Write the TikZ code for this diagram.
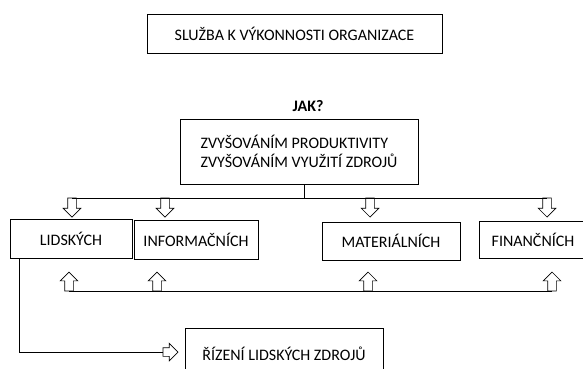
\documentclass[tikz,border=0pt]{standalone}
\usepackage{fontspec}
\setmainfont{Carlito}
\usetikzlibrary{shapes.arrows}

\begin{document}
\begin{tikzpicture}[x=1pt,y=-1pt,line width=0.7pt,
    box/.style={draw,rectangle,inner sep=0pt,font=\fontsize{16}{19}\selectfont},
    arrow node/.style={single arrow,draw,fill=white,inner xsep=0pt,inner ysep=4pt,outer sep=0pt,single arrow head extend=4.5pt,minimum height=19pt,anchor=tail},
    down arrow/.style={arrow node,rotate=-90},
    up arrow/.style={arrow node,rotate=90}]
	\useasboundingbox (0,0) rectangle (583,368);
	\node[box,minimum width=295pt,minimum height=39pt] (sluzba) at (294.5,33.5) {SLUŽBA K VÝKONNOSTI ORGANIZACE};
	\node[font=\fontsize{16}{19}\selectfont\bfseries] (jak) at (308,106) {JAK?};
	\node[box,minimum width=238pt,minimum height=65pt,align=left] (zvys) at (299,151.5) {ZVYŠOVÁNÍM PRODUKTIVITY\\ZVYŠOVÁNÍM VYUŽITÍ ZDROJŮ};
	\node[box,minimum width=122pt,minimum height=39pt] (lid) at (71,238.5) {LIDSKÝCH};
	\node[box,minimum width=124pt,minimum height=39pt] (inf) at (196,239.5) {INFORMAČNÍCH};
	\node[box,minimum width=138pt,minimum height=38pt] (mat) at (391,241) {MATERIÁLNÍCH};
	\node[box,minimum width=108pt,minimum height=37pt] (fin) at (533,239.5) {FINANČNÍCH};
	\node[box,minimum width=198pt,minimum height=52pt] (rizeni) at (284,354) {ŘÍZENÍ LIDSKÝCH ZDROJŮ};
	% arrows into the four boxes
	\node[down arrow] (dL) at (72,198) {};
	\node[down arrow] (dI) at (165,198) {};
	\node[down arrow] (dM) at (370,198) {};
	\node[down arrow] (dF) at (547,198) {};
	\node[up arrow] (uL) at (69,291) {};
	\node[up arrow] (uI) at (157,291) {};
	\node[up arrow] (uM) at (368,291) {};
	\node[up arrow] (uF) at (552,291) {};
	\node[arrow node,minimum height=15pt] (rA) at (163,352) {};
	\draw ([xshift=5pt]zvys.south) -- ([xshift=5pt]zvys.south |- dL.tail);
	\draw (dL.tail) -- (dF.tail);
	\draw (uL.tail) -- (uF.tail);
	\draw ([xshift=10pt]lid.south west) |- (rA.tail);
\end{tikzpicture}
\end{document}
